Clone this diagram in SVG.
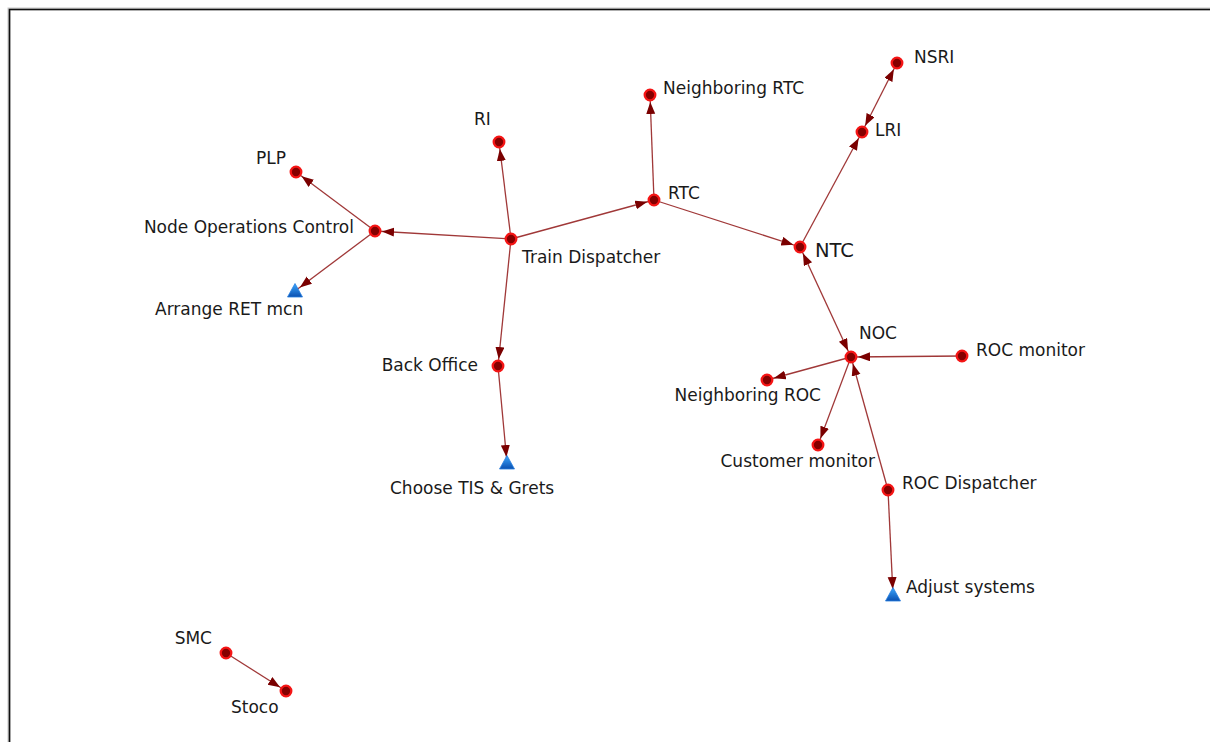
<svg xmlns="http://www.w3.org/2000/svg" width="1210" height="742" viewBox="0 0 1210 742">
<defs>
<style>
.e{stroke:#a03838;stroke-width:1.3;fill:none;marker-end:url(#ah)}
.eb{marker-start:url(#ahs)}
.et{marker-end:url(#aht)}
.n{fill:#850000;stroke:#f51515;stroke-width:2.3}
.t{fill:url(#tg);stroke:#2a80e0;stroke-width:0.8}
text{font-family:"DejaVu Sans",Verdana,sans-serif;font-size:17px;fill:#1a1a1a}
</style>
<marker id="ah" markerUnits="userSpaceOnUse" markerWidth="24" markerHeight="10" refX="19" refY="4.5" orient="auto"><path d="M0,0 L12,4.5 L0,9 z" fill="#7a0000"/></marker>
<marker id="ahs" markerUnits="userSpaceOnUse" markerWidth="24" markerHeight="10" refX="19" refY="4.5" orient="auto-start-reverse"><path d="M0,0 L12,4.5 L0,9 z" fill="#7a0000"/></marker>
<marker id="aht" markerUnits="userSpaceOnUse" markerWidth="24" markerHeight="10" refX="18" refY="4.5" orient="auto"><path d="M0,0 L12,4.5 L0,9 z" fill="#7a0000"/></marker>
<linearGradient id="tg" x1="0" y1="0" x2="0" y2="1"><stop offset="0" stop-color="#3aa8ff"/><stop offset="1" stop-color="#0a4fb0"/></linearGradient>
</defs>
<rect width="1210" height="742" fill="#fff"/>
<path d="M9,742 V9 H1210" fill="none" stroke="#c8c8c8" stroke-width="3"/>
<path d="M9.5,742 V9.5 H1210" fill="none" stroke="#111" stroke-width="1.6"/>
<g id="edges">
<line class="e" x1="511" y1="239" x2="499" y2="142"/>
<line class="e" x1="511" y1="239" x2="375" y2="231"/>
<line class="e" x1="375" y1="231" x2="296" y2="172"/>
<line class="e et" x1="375" y1="231" x2="295" y2="291"/>
<line class="e" x1="511" y1="239" x2="498" y2="366"/>
<line class="e et" x1="498" y1="366" x2="507" y2="463"/>
<line class="e" x1="511" y1="239" x2="654" y2="200"/>
<line class="e" x1="654" y1="200" x2="650" y2="95"/>
<line class="e" x1="654" y1="200" x2="800" y2="247"/>
<line class="e" x1="800" y1="247" x2="862" y2="132"/>
<line class="e eb" x1="862" y1="132" x2="897" y2="63"/>
<line class="e eb" x1="800" y1="247" x2="851" y2="357"/>
<line class="e" x1="962" y1="356" x2="851" y2="357"/>
<line class="e" x1="851" y1="357" x2="767" y2="380"/>
<line class="e" x1="851" y1="357" x2="818" y2="445"/>
<line class="e" x1="888" y1="490" x2="851" y2="357"/>
<line class="e et" x1="888" y1="490" x2="893" y2="595"/>
<line class="e" x1="226" y1="653" x2="286" y2="691"/>
</g>
<g id="n-td"><circle class="n" cx="511" cy="239" r="5.3"/><text x="522" y="263">Train Dispatcher</text></g>
<g id="n-ri"><circle class="n" cx="499" cy="142" r="5.3"/><text x="474" y="125">RI</text></g>
<g id="n-noc-ctrl"><circle class="n" cx="375" cy="231" r="5.3"/><text x="354" y="233" text-anchor="end">Node Operations Control</text></g>
<g id="n-plp"><circle class="n" cx="296" cy="172" r="5.3"/><text x="256" y="164">PLP</text></g>
<g id="n-arrange"><polygon class="t" points="295,283.5 302.5,297 287.5,297"/><text x="155" y="315">Arrange RET mcn</text></g>
<g id="n-bo"><circle class="n" cx="498" cy="366" r="5.3"/><text x="478" y="371" text-anchor="end">Back Office</text></g>
<g id="n-choose"><polygon class="t" points="507,455.5 514.5,469 499.5,469"/><text x="390" y="494">Choose TIS &amp; Grets</text></g>
<g id="n-rtc"><circle class="n" cx="654" cy="200" r="5.3"/><text x="668" y="199">RTC</text></g>
<g id="n-nrtc"><circle class="n" cx="650" cy="95" r="5.3"/><text x="663" y="94">Neighboring RTC</text></g>
<g id="n-ntc"><circle class="n" cx="800" cy="247" r="5.3"/><text x="815" y="257" style="font-size:19.5px">NTC</text></g>
<g id="n-lri"><circle class="n" cx="862" cy="132" r="5.3"/><text x="875" y="136">LRI</text></g>
<g id="n-nsri"><circle class="n" cx="897" cy="63" r="5.3"/><text x="914" y="63">NSRI</text></g>
<g id="n-noc"><circle class="n" cx="851" cy="357" r="5.3"/><text x="859" y="339">NOC</text></g>
<g id="n-rocm"><circle class="n" cx="962" cy="356" r="5.3"/><text x="976" y="356">ROC monitor</text></g>
<g id="n-nroc"><circle class="n" cx="767" cy="380" r="5.3"/><text x="821" y="401" text-anchor="end">Neighboring ROC</text></g>
<g id="n-cm"><circle class="n" cx="818" cy="445" r="5.3"/><text x="875" y="467" text-anchor="end">Customer monitor</text></g>
<g id="n-rocd"><circle class="n" cx="888" cy="490" r="5.3"/><text x="902" y="489">ROC Dispatcher</text></g>
<g id="n-adjust"><polygon class="t" points="893,587.5 900.5,601 885.5,601"/><text x="906" y="593">Adjust systems</text></g>
<g id="n-smc"><circle class="n" cx="226" cy="653" r="5.3"/><text x="212" y="644" text-anchor="end">SMC</text></g>
<g id="n-stoco"><circle class="n" cx="286" cy="691" r="5.3"/><text x="231" y="713">Stoco</text></g>
</svg>
